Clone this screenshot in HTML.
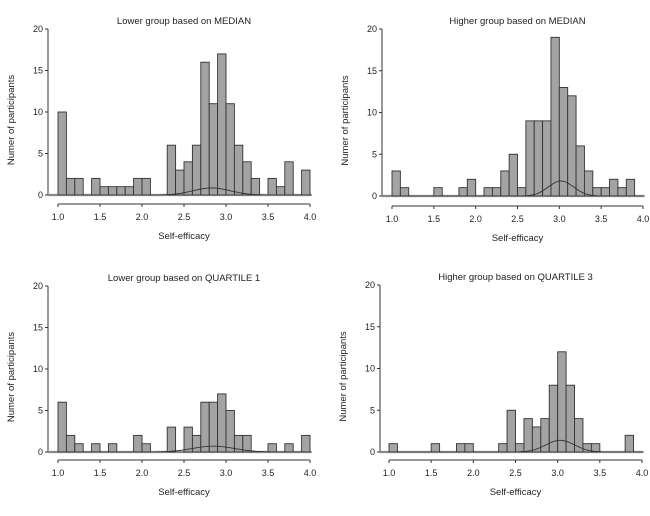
<!DOCTYPE html>
<html><head><meta charset="utf-8"><style>
body{margin:0;background:#fff;}
svg text{font-family:"Liberation Sans",sans-serif;fill:#222;}
</style></head><body>
<svg id="c" width="650" height="511" xmlns="http://www.w3.org/2000/svg"></svg>
<script>
const binStart = 1.0, binWidth = 0.1;
const xTicks = ["1.0","1.5","2.0","2.5","3.0","3.5","4.0"];
const yTicks = [0,5,10,15,20];
const titles = ["Lower group based on MEDIAN","Higher group based on MEDIAN","Lower group based on QUARTILE 1","Higher group based on QUARTILE 3"];
const countsA = [10,2,2,0,2,1,1,1,1,2,2,0,0,6,3,4,6,16,11,17,11,6,4,2,0,2,1,4,0,3];
const countsB = [3,1,0,0,0,1,0,0,1,2,0,1,1,3,5,1,9,9,9,19,13,12,6,3,1,1,2,1,2,0];
const countsC = [6,2,1,0,1,0,1,0,0,2,1,0,0,3,0,3,2,6,6,7,5,2,2,0,0,1,0,1,0,2];
const countsD = [1,0,0,0,0,1,0,0,1,1,0,0,0,1,5,1,4,3,4,8,12,8,4,1,1,0,0,0,2,0];
const curveMean = [2.83,3.02,2.85,3.03];
const curveSd = [0.22,0.15,0.25,0.17];
const curvePeak = [0.85,1.8,0.7,1.4];
const panels = [
 {x0:58,x1:310,y0:195,y20:29,ax:48,axY:204,counts:countsA},
 {x0:392,x1:643,y0:196,y20:29,ax:382,axY:206,counts:countsB},
 {x0:58,x1:310,y0:452,y20:286,ax:48,axY:460,counts:countsC},
 {x0:389,x1:642,y0:452,y20:285,ax:380,axY:460,counts:countsD}
];
const svg=document.getElementById('c');
const NS="http://www.w3.org/2000/svg";
function mk(tag,attrs,parent){const e=document.createElementNS(NS,tag);for(const k in attrs)e.setAttribute(k,attrs[k]);(parent||svg).appendChild(e);return e;}
panels.forEach((p,i)=>{
 const g=mk('g',{});
 
 
 const sx=v=>p.x0+(v-1)*(p.x1-p.x0)/3;
 const sy=v=>p.y0-v*(p.y0-p.y20)/20;
 const t=mk('text',{x:(p.x0+p.x1)/2,y:p.y20-5,'font-size':9.5,'text-anchor':'middle'},g);t.textContent=titles[i];
 
 
 // y axis
 const ya=mk('line',{x1:p.ax,x2:p.ax,y1:sy(20),y2:sy(0),stroke:'#333','stroke-width':1},g);
 
 
 yTicks.forEach(v=>{
  mk('line',{x1:p.ax-3,x2:p.ax,y1:sy(v),y2:sy(v),stroke:'#333'},g);
  const tt=mk('text',{x:p.ax-5,y:sy(v)+3,'font-size':9,'text-anchor':'end'},g);tt.textContent=v;
  
  
 });
 const yl=mk('text',{transform:`translate(${p.ax-34},${(sy(0)+sy(20))/2+8}) rotate(-90)`,'font-size':9.5,'text-anchor':'middle'},g);yl.textContent='Numer of participants';
 
 
 // x axis
 const xa=mk('line',{x1:sx(1),x2:sx(4),y1:p.axY,y2:p.axY,stroke:'#333'},g);
 
 
 xTicks.forEach(s=>{
  const v=parseFloat(s);
  mk('line',{x1:sx(v),x2:sx(v),y1:p.axY,y2:p.axY+3,stroke:'#333'},g);
  const tt=mk('text',{x:sx(v),y:p.axY+16,'font-size':9,'text-anchor':'middle'},g);tt.textContent=s;
  
  
 });
 const xl=mk('text',{x:(p.x0+p.x1)/2,y:p.axY+35,'font-size':9.5,'text-anchor':'middle'},g);xl.textContent='Self-efficacy';
 
 
 // baseline
 mk('line',{x1:p.ax,x2:sx(4.02),y1:sy(0),y2:sy(0),stroke:'#bbb','stroke-width':2.5},g);
 mk('line',{x1:p.ax,x2:sx(4.02),y1:sy(0),y2:sy(0),stroke:'#333','stroke-width':0.8},g);
 // bars
 p.counts.forEach((c,k)=>{
  if(!c)return;
  const a=binStart+k*binWidth;
  const r=mk('rect',{x:sx(a),y:sy(c),width:sx(a+binWidth)-sx(a),height:sy(0)-sy(c),fill:'#a3a3a3',stroke:'#333','stroke-width':0.9},g);
  
  
 });
 // density curve
 let d='';
 for(let v=1;v<=4.0001;v+=0.02){
  const y=curvePeak[i]*Math.exp(-0.5*Math.pow((v-curveMean[i])/curveSd[i],2));
  d+=(d?'L':'M')+sx(v).toFixed(1)+','+sy(y).toFixed(1);
 }
 const cu=mk('path',{d:d,fill:'none',stroke:'#333','stroke-width':0.9},g);
 
 
});
</script>
</body></html>
